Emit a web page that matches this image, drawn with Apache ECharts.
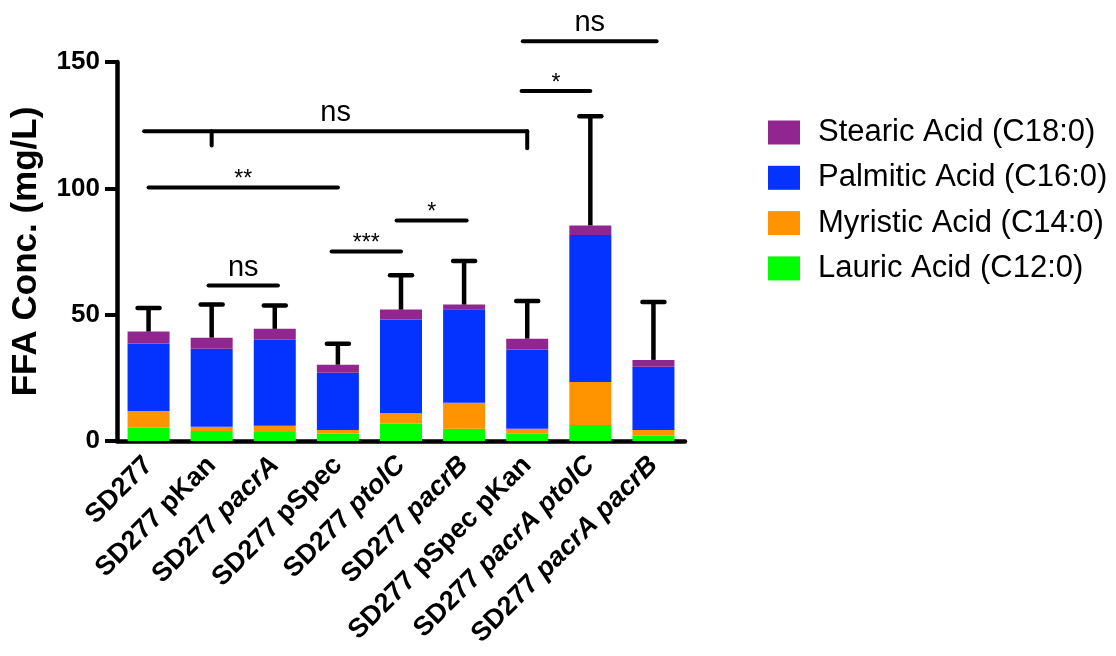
<!DOCTYPE html>
<html>
<head>
<meta charset="utf-8">
<script src="https://cdn.jsdelivr.net/npm/echarts@6/dist/echarts.min.js"></script>
<style>
html,body{margin:0;padding:0;background:#fff;}
#chart{width:1116px;height:656px;}
</style>
</head>
<body>
<div id="chart"></div>
<script>
// ---- data ----
const categories = ['SD277', 'SD277 pKan', 'SD277 pacrA', 'SD277 pSpec', 'SD277 ptolC', 'SD277 pacrB', 'SD277 pSpec pKan', 'SD277 pacrA ptolC', 'SD277 pacrA pacrB'];
const italicWords = ['pacrA', 'ptolC', 'pacrB'];
const seriesNames = ['Lauric Acid (C12:0)', 'Myristic Acid (C14:0)', 'Palmitic Acid (C16:0)', 'Stearic Acid (C18:0)'];
const lauric   = [5.3, 4.0, 3.6, 3.0, 6.9, 4.8, 2.9, 6.3, 2.1];
const myristic = [6.6, 1.6, 2.4, 1.4, 4.2, 10.3, 1.9, 17.1, 2.3];
const palmitic = [26.7, 30.9, 34.1, 22.6, 37.0, 37.0, 31.4, 58.1, 25.0];
const stearic  = [4.7, 4.4, 4.3, 3.2, 3.9, 1.9, 4.3, 3.8, 2.7];
const errorSD  = [9.3, 13.1, 9.2, 8.3, 13.6, 17.2, 14.9, 43.2, 22.9];
const yTicks = [0, 50, 100, 150];
// significance annotations (category index span, value level, label, drop ticks [category, depth])
const sigFrom   = [-0.07, 0, 2.9, 0.95, 3.93, 5.91, 5.93];
const sigTo     = [6, 3, 4, 2.05, 5.04, 7, 8.05];
const sigLevel  = [122.6, 100.3, 75, 61.5, 87.3, 138.5, 158.2];
const sigLabels = ['ns', '**', '***', 'ns', '*', '*', 'ns'];
const sigDrops  = [[[1, 5.6], [6, 6.7]], [], [], [], [], [], []];

// ---- build ----
const colors = ['#00FF00', '#FF9300', '#0433FF', '#922690'];
const valueSets = [lauric, myristic, palmitic, stearic];
const totals = categories.map((c, i) => valueSets.reduce((s, arr) => s + arr[i], 0));
const FONT = '"Liberation Sans", Arial, sans-serif';

const barSeries = seriesNames.map((name, k) => ({
  name: name,
  type: 'bar',
  stack: 'total',
  barWidth: 42,
  itemStyle: { color: colors[k] },
  emphasis: { disabled: true },
  data: valueSets[k]
}));

const errorSeries = {
  type: 'custom',
  name: 'error',
  z: 5,
  data: categories.map((c, i) => [i, totals[i], totals[i] + errorSD[i]]),
  renderItem: function (params, api) {
    const p0 = api.coord([api.value(0), api.value(1)]);
    const p1 = api.coord([api.value(0), api.value(2)]);
    const hw = 11;
    return {
      type: 'group',
      children: [
        { type: 'line', shape: { x1: p0[0], y1: p0[1], x2: p1[0], y2: p1[1] }, style: { stroke: '#000', lineWidth: 4.5 } },
        { type: 'line', shape: { x1: p1[0] - hw, y1: p1[1], x2: p1[0] + hw, y2: p1[1] }, style: { stroke: '#000', lineWidth: 4.5, lineCap: 'round' } }
      ]
    };
  }
};

const sigSeries = {
  type: 'custom',
  name: 'sig',
  z: 6,
  clip: false,
  silent: true,
  data: sigLevel.map((v, i) => [0, v]),
  renderItem: function (params, api) {
    const i = params.dataIndex;
    const y = sigLevel[i];
    const a = api.coord([0, y]);
    const b = api.coord([1, y]);
    const step = b[0] - a[0];
    const xOf = (c) => a[0] + step * c;
    const x1 = xOf(sigFrom[i]), x2 = xOf(sigTo[i]);
    const children = [
      { type: 'line', shape: { x1: x1, y1: a[1], x2: x2, y2: a[1] }, style: { stroke: '#000', lineWidth: 4, lineCap: 'round' } }
    ];
    sigDrops[i].forEach(d => {
      const yd = api.coord([0, y - d[1]])[1];
      children.push({ type: 'line', shape: { x1: xOf(d[0]), y1: a[1], x2: xOf(d[0]), y2: yd }, style: { stroke: '#000', lineWidth: 4, lineCap: 'round' } });
    });
    const isStar = sigLabels[i].indexOf('*') >= 0;
    children.push({
      type: 'text',
      style: {
        text: sigLabels[i],
        x: (x1 + x2) / 2,
        y: a[1] + (isStar ? -7.5 : -18),
        align: 'center', verticalAlign: 'middle',
        textAlign: 'center', textVerticalAlign: 'middle',
        font: (isStar ? '23px ' : '29px ') + FONT,
        fill: '#000'
      }
    });
    return { type: 'group', children: children };
  }
};

const chart = echarts.init(document.getElementById('chart'));
chart.setOption({
  animation: false,
  backgroundColor: '#fff',
  textStyle: { fontFamily: FONT },
  grid: { left: 117, right: 431, top: 62, bottom: 215, containLabel: false },
  legend: {
    orient: 'vertical',
    left: 768,
    top: 117,
    padding: 0,
    itemWidth: 32,
    itemHeight: 24,
    itemGap: 14.3,
    icon: 'rect',
    selectedMode: false,
    data: seriesNames.slice().reverse(),
    textStyle: { fontSize: 31, lineHeight: 31, color: '#000', fontFamily: FONT, padding: [0, 0, 0, 13] }
  },
  xAxis: {
    type: 'category',
    data: categories,
    axisLine: { lineStyle: { color: '#000', width: 4.5 } },
    axisTick: { alignWithLabel: true, length: 12, lineStyle: { color: '#000', width: 4 } },
    axisLabel: {
      rotate: 45,
      margin: 20,
      interval: 0,
      color: '#000',
      formatter: function (v) {
        return v.split(' ').map(w => italicWords.indexOf(w) >= 0 ? '{i|' + w + '}' : '{b|' + w + '}').join('{b| }');
      },
      rich: {
        b: { fontSize: 27, fontWeight: 'bold', fontFamily: FONT, color: '#000' },
        i: { fontSize: 27, fontWeight: 'bold', fontStyle: 'italic', fontFamily: FONT, color: '#000' }
      }
    }
  },
  yAxis: {
    type: 'value',
    min: yTicks[0],
    max: yTicks[yTicks.length - 1],
    interval: yTicks[1] - yTicks[0],
    name: 'FFA Conc. (mg/L)',
    nameLocation: 'middle',
    nameGap: 73,
    nameTextStyle: { fontSize: 35, fontWeight: 'bold', color: '#000', fontFamily: FONT },
    axisLine: { show: true, lineStyle: { color: '#000', width: 4.5 } },
    axisTick: { show: true, length: 12, lineStyle: { color: '#000', width: 4 } },
    axisLabel: { margin: 17, fontSize: 26, fontWeight: 'bold', color: '#000', fontFamily: FONT },
    splitLine: { show: false }
  },
  series: barSeries.concat([errorSeries, sigSeries])
});
</script>
</body>
</html>
